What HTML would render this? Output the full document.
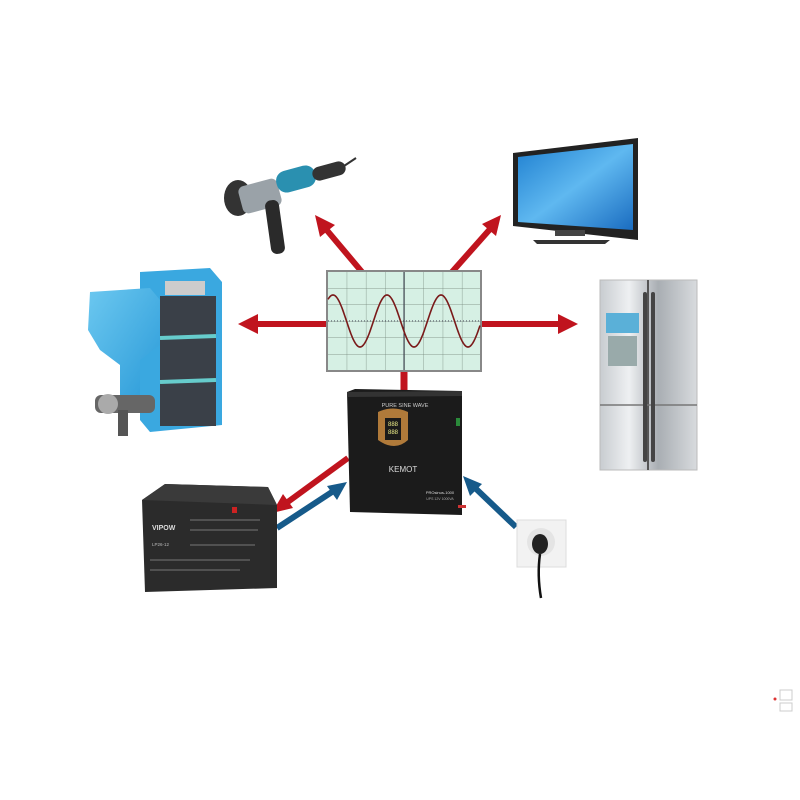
<!DOCTYPE html>
<html><head><meta charset="utf-8"><style>
html,body{margin:0;padding:0;background:#fff;width:800px;height:800px;overflow:hidden}
svg{display:block}
text{font-family:"Liberation Sans",sans-serif}
</style></head><body>
<svg width="800" height="800" viewBox="0 0 800 800" xmlns="http://www.w3.org/2000/svg">
<defs>
<linearGradient id="scr" x1="0" y1="0" x2="1" y2="1"><stop offset="0" stop-color="#1e7fd0"/><stop offset="0.5" stop-color="#5fb8f0"/><stop offset="1" stop-color="#1a6cc0"/></linearGradient>
<linearGradient id="fr" x1="0" y1="0" x2="1" y2="0"><stop offset="0" stop-color="#c8ccd0"/><stop offset="0.3" stop-color="#eef0f2"/><stop offset="0.6" stop-color="#a9aeb3"/><stop offset="1" stop-color="#d8dbde"/></linearGradient>
<linearGradient id="blu" x1="0" y1="0" x2="1" y2="1"><stop offset="0" stop-color="#6cc8f0"/><stop offset="1" stop-color="#2a9ad8"/></linearGradient>
<pattern id="grid" x="328" y="272" width="19.2" height="16.5" patternUnits="userSpaceOnUse"><path d="M19.2 0V16.5H0" fill="none" stroke="#6f8276" stroke-width="0.7"/></pattern>
</defs>

<g fill="#c0141e" stroke="#c0141e">
<line x1="327" y1="324" x2="255" y2="324" stroke-width="6"/><polygon points="238,324 258,314 258,334" stroke="none"/>
<line x1="481" y1="324" x2="560" y2="324" stroke-width="6"/><polygon points="578,324 558,314 558,334" stroke="none"/>
<line x1="362" y1="272" x2="325" y2="228" stroke-width="6"/><polygon points="315,215 335,225 320,237" stroke="none"/>
<line x1="452" y1="272" x2="491" y2="228" stroke-width="6"/><polygon points="501,215 496,236 482,224" stroke="none"/>
<line x1="404" y1="371" x2="404" y2="390" stroke-width="7"/>
<line x1="348" y1="458" x2="285" y2="504" stroke-width="6"/><polygon points="272,513 283,494 293,508" stroke="none"/>
</g>
<g fill="#165a8a" stroke="#165a8a">
<line x1="277" y1="528" x2="335" y2="490" stroke-width="6"/><polygon points="347,482 337,500 327,486" stroke="none"/>
<line x1="516" y1="527" x2="472" y2="485" stroke-width="6"/><polygon points="463,476 482,484 470,496" stroke="none"/>
</g>

<rect x="327" y="271" width="154" height="100" fill="#d6f0e4" stroke="#888" stroke-width="2"/>
<rect x="328" y="272" width="152" height="98" fill="url(#grid)"/>
<line x1="404" y1="272" x2="404" y2="370" stroke="#334" stroke-width="1"/>
<line x1="328" y1="321" x2="480" y2="321" stroke="#334" stroke-width="1" stroke-dasharray="1 2"/>
<path id="sine" fill="none" stroke="#7a1a1a" stroke-width="1.6" d=""/>

<polygon points="347,392 355,389 462,391 462,515 350,512" fill="#1b1b1b"/>
<polygon points="347,392 462,391 462,396 347,397" fill="#333"/>
<text x="405" y="407" font-size="5.5" fill="#ccc" text-anchor="middle">PURE SINE WAVE</text>
<path d="M378 412 Q393 405 408 412 L408 440 Q395 452 378 440 Z" fill="#b07a3a"/>
<rect x="385" y="418" width="16" height="22" fill="#1a1a1a"/>
<text x="393" y="426" font-size="6" fill="#ee8" text-anchor="middle">888</text>
<text x="393" y="434" font-size="6" fill="#ee8" text-anchor="middle">888</text>
<text x="403" y="472" font-size="8" fill="#ddd" text-anchor="middle" font-family="Liberation Serif,serif">KEMOT</text>
<text x="440" y="494" font-size="4" fill="#ddd" text-anchor="middle">PROsinus-1000</text>
<text x="440" y="500" font-size="3.5" fill="#aaa" text-anchor="middle">UPS 12V 1000VA</text>
<rect x="456" y="418" width="4" height="8" fill="#2a8a3a"/>
<rect x="458" y="505" width="8" height="3" fill="#c33"/>

<g>
<ellipse cx="238" cy="198" rx="14" ry="18" fill="#333"/>
<rect x="240" y="182" width="40" height="28" rx="6" fill="#9aa2a8" transform="rotate(-15 260 196)"/>
<rect x="276" y="168" width="40" height="22" rx="10" fill="#2a90b0" transform="rotate(-15 296 179)"/>
<rect x="312" y="164" width="34" height="14" rx="7" fill="#333" transform="rotate(-15 329 171)"/>
<line x1="344" y1="166" x2="356" y2="158" stroke="#333" stroke-width="2"/>
<rect x="268" y="200" width="14" height="54" rx="6" fill="#2a2a2a" transform="rotate(-8 275 227)"/>
</g>

<polygon points="513,153 638,138 638,240 513,226" fill="#222"/>
<polygon points="518,157 633,144 633,230 518,222" fill="url(#scr)"/>
<rect x="555" y="230" width="30" height="6" fill="#444"/>
<polygon points="533,240 610,240 605,244 537,244" fill="#333"/>

<polygon points="140,272 210,268 222,282 222,425 150,432 140,420" fill="#3aa8e0"/>
<rect x="160" y="296" width="56" height="130" fill="#3a4048"/>
<rect x="165" y="281" width="40" height="14" fill="#ccc"/>
<line x1="160" y1="338" x2="216" y2="336" stroke="#6cc" stroke-width="4"/>
<line x1="160" y1="382" x2="216" y2="380" stroke="#6cc" stroke-width="4"/>
<polygon points="90,292 150,288 160,300 160,345 140,360 140,400 120,400 120,365 100,350 88,330" fill="url(#blu)"/>
<rect x="95" y="395" width="60" height="18" rx="6" fill="#666"/>
<circle cx="108" cy="404" r="10" fill="#aaa"/>
<rect x="118" y="410" width="10" height="26" fill="#555"/>

<rect x="600" y="280" width="97" height="190" fill="url(#fr)" stroke="#bbb"/>
<line x1="648" y1="280" x2="648" y2="470" stroke="#555" stroke-width="2"/>
<line x1="600" y1="405" x2="697" y2="405" stroke="#777" stroke-width="1.5"/>
<rect x="643" y="292" width="4" height="170" rx="2" fill="#444"/>
<rect x="651" y="292" width="4" height="170" rx="2" fill="#444"/>
<rect x="606" y="313" width="33" height="20" fill="#5ab0d8"/>
<rect x="608" y="336" width="29" height="30" fill="#9aa"/>

<polygon points="142,500 165,484 268,487 277,505 277,588 145,592" fill="#2b2b2b"/>
<polygon points="142,500 165,484 268,487 277,505" fill="#3a3a3a"/>
<text x="152" y="530" font-size="7" fill="#ddd" font-weight="bold">VIPOW</text>
<text x="152" y="546" font-size="4.5" fill="#bbb">LP26-12</text>
<g stroke="#777" stroke-width="1"><line x1="190" y1="520" x2="260" y2="520"/><line x1="190" y1="530" x2="258" y2="530"/><line x1="190" y1="545" x2="255" y2="545"/><line x1="150" y1="560" x2="250" y2="560"/><line x1="150" y1="570" x2="240" y2="570"/></g>
<rect x="232" y="507" width="5" height="6" fill="#c22"/>

<rect x="517" y="520" width="49" height="47" fill="#f2f2f2" stroke="#ddd"/>
<circle cx="541" cy="542" r="14" fill="#e4e4e4"/>
<ellipse cx="540" cy="544" rx="8" ry="10" fill="#222"/>
<path d="M540 554 Q537 575 541 598" stroke="#111" stroke-width="2.5" fill="none"/>

<g stroke="#ccc" fill="none"><rect x="780" y="690" width="12" height="10"/><rect x="780" y="703" width="12" height="8"/></g>
<circle cx="775" cy="699" r="1.5" fill="#d33"/>

<script>
var d="",x;for(x=328;x<=480;x+=1){var y=321-26*Math.sin((x-328)*2*Math.PI/54+0.99);d+=(x==328?"M":"L")+x+" "+y.toFixed(1)+" ";}
document.getElementById("sine").setAttribute("d",d);
</script>
</svg>
</body></html>
